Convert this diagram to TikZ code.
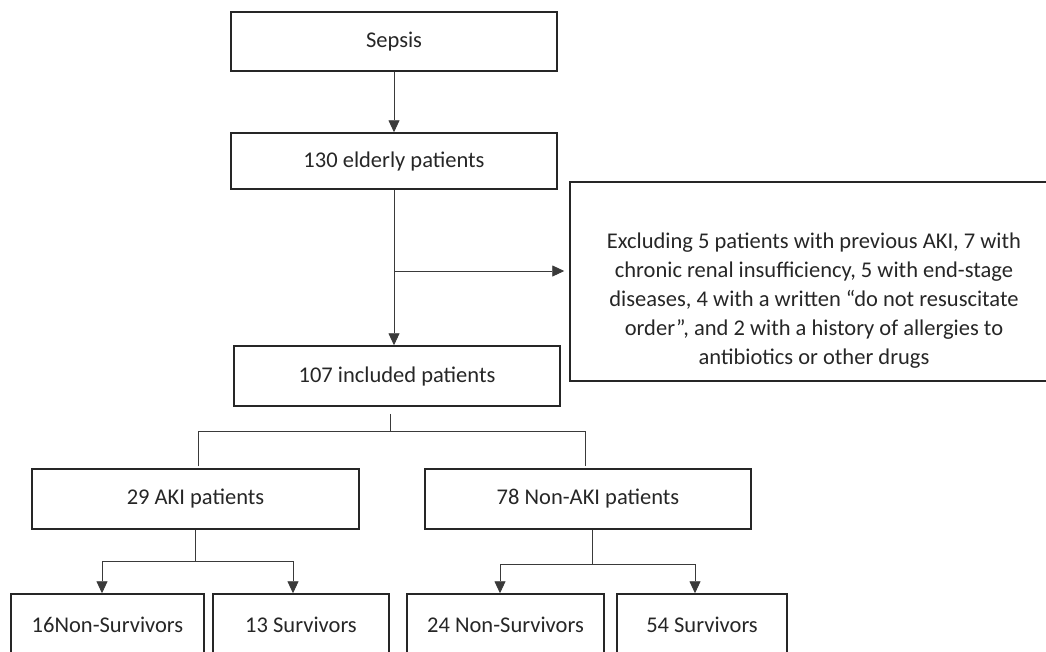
\documentclass[tikz,border=0pt]{standalone}
\usepackage{fontspec}
\setmainfont{Carlito}
\usetikzlibrary{arrows.meta}
\definecolor{ink}{HTML}{262626}
\definecolor{wire}{HTML}{3A3A3A}
\tikzset{
  box/.style={draw=ink, line width=1.5pt, minimum height=60pt, inner sep=0pt, text=ink},
  wire/.style={draw=wire, line width=0.9pt},
  arr/.style={wire, -{Triangle[length=12pt,width=11pt]}}
}
\begin{document}
\begin{tikzpicture}[x=1pt, y=-1pt, font=\fontsize{22.5}{29}\selectfont]
  \useasboundingbox (0,0) rectangle (1046,651);
  \clip (0,0) rectangle (1046,651);
  \node[box, minimum width=326pt, minimum height=59pt] (S) at (394,41.5) {Sepsis};
  \node[box, minimum width=326pt, minimum height=56pt] (E) at (394,161) {130 elderly patients};
  \node[box, minimum width=488pt, minimum height=199pt] (X) at (814,281.5) {};
  \node[text=ink, align=center] (XT) at (814,301) {Excluding 5 patients with previous AKI, 7 with\\chronic renal insufficiency, 5 with end-stage\\diseases, 4 with a written “do not resuscitate\\order”, and 2 with a history of allergies to\\antibiotics or other drugs};
  \node[box, minimum width=326pt] (I) at (397,376) {107 included patients};
  \node[box, minimum width=327pt] (A) at (195.5,499) {29 AKI patients};
  \node[box, minimum width=326pt] (NA) at (588,499) {78 Non-AKI patients};
  \foreach \n/\x/\w/\t in {1/107.5/193/16Non-Survivors, 2/301/176/13 Survivors, 3/505.5/197/24 Non-Survivors, 4/702/170/54 Survivors}{
    \node[box, minimum width=\w pt, minimum height=62pt] (B\n) at (\x,625) {\t};
  }
  \draw[arr] (S.south) -- (E.north);
  \draw[arr] (E.south) -- (E.south |- I.north);
  \coordinate (XA) at (395,271);
  \draw[arr, shorten >=5pt] (XA) -- (XA -| X.west);
  \coordinate (J) at (390,431);
  \coordinate (JL) at (198,431);
  \coordinate (JR) at (585,431);
  \draw[wire] (J |- I.south) ++(0,7) -- (J);
  \draw[wire] ([yshift=2pt]JL |- A.north) -- (JL) -- (JR) -- ([yshift=2pt]JR |- NA.north);
  \foreach \p/\s/\y/\l/\r/\bl/\br in {A/195/561/102/293/B1/B2, NA/592/564/500/695/B3/B4}{
    \coordinate (K\p) at (\s,\y);
    \coordinate (L\p) at (\l,\y);
    \coordinate (R\p) at (\r,\y);
    \draw[wire] (K\p |- \p.south) -- (K\p);
    \draw[wire] (L\p) -- (R\p);
    \draw[arr] (L\p) -- (L\p |- \bl.north);
    \draw[arr] (R\p) -- (R\p |- \br.north);
  }
\end{tikzpicture}
\end{document}
